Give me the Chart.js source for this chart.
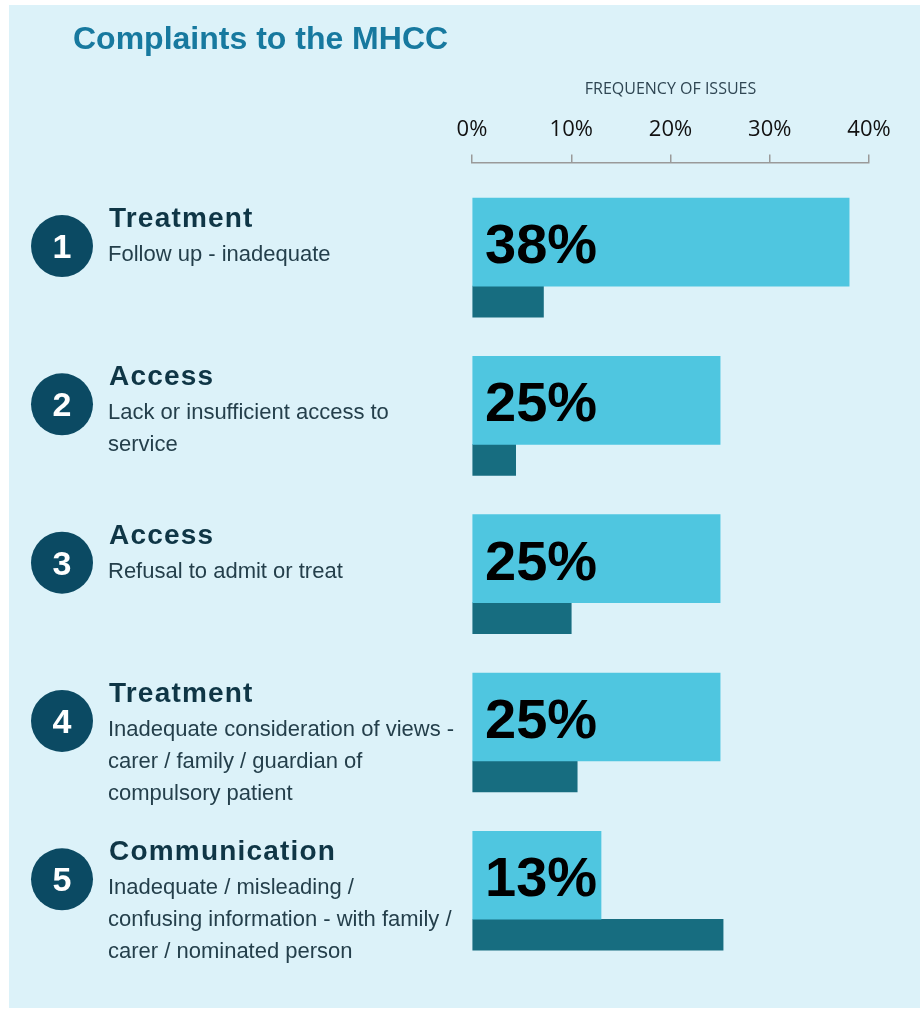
<!DOCTYPE html>
<html>
<head>
<meta charset="utf-8">
<title>Complaints to the MHCC</title>
<script src="https://cdn.jsdelivr.net/npm/chart.js@4.4.1/dist/chart.umd.min.js"></script>
<style>
  html, body { margin: 0; padding: 0; background: #ffffff; }
  #wrap { width: 920px; height: 1010px; }
</style>
</head>
<body>
<div id="wrap"><canvas id="complaints" width="920" height="1010"></canvas></div>
<script>
/* Data */
const headings = ['Treatment', 'Access', 'Access', 'Treatment', 'Communication'];
const descriptions = [
  ['Follow up - inadequate'],
  ['Lack or insufficient access to', 'service'],
  ['Refusal to admit or treat'],
  ['Inadequate consideration of views -', 'carer / family / guardian of', 'compulsory patient'],
  ['Inadequate / misleading /', 'confusing information - with family /', 'carer / nominated person']
];
const frequency = [38, 25, 25, 25, 13];
const compare = [7.2, 4.4, 10.0, 10.6, 25.3];
const xTicks = [0, 10, 20, 30, 40];

const PANEL = '#dcf2f9';
const LIGHT = '#4fc6e0';
const DARK = '#176d80';
const NAVY = '#0b4a63';
const INK = '#0f3646';
const BODY = '#243f4b';

/* Panel background, title, row captions and the big value labels */
const decorations = {
  id: 'decorations',
  beforeDraw(chart) {
    const ctx = chart.ctx;
    ctx.save();
    ctx.fillStyle = PANEL;
    ctx.fillRect(9, 5, chart.width - 9, 1003);
    ctx.fillStyle = '#17799f';
    ctx.font = 'bold 32px "Liberation Sans"';
    ctx.textBaseline = 'alphabetic';
    ctx.fillText('Complaints to the MHCC', 73, 49);
    ctx.restore();
  },
  afterDatasetsDraw(chart) {
    const ctx = chart.ctx;
    const y = chart.scales.y;
    const left = chart.chartArea.left;
    ctx.save();
    headings.forEach(function (head, i) {
      const p = y.getPixelForValue(i);

      // numbered disc
      ctx.fillStyle = NAVY;
      ctx.beginPath();
      ctx.arc(62, p - 40, 31, 0, Math.PI * 2);
      ctx.fill();
      ctx.fillStyle = '#ffffff';
      ctx.font = 'bold 34px "Liberation Sans"';
      ctx.textAlign = 'center';
      ctx.textBaseline = 'alphabetic';
      ctx.fillText(String(i + 1), 62, p - 40 + 12);

      // heading + description lines
      ctx.textAlign = 'left';
      ctx.fillStyle = INK;
      ctx.font = 'bold 28px "Liberation Sans"';
      ctx.letterSpacing = '1.2px';
      ctx.fillText(head, 109, p - 59);
      ctx.letterSpacing = '0px';
      ctx.fillStyle = BODY;
      ctx.font = '22px "Liberation Sans"';
      descriptions[i].forEach(function (line, k) {
        ctx.fillText(line, 108, p - 25 + k * 32);
      });
    });

    // percentages written inside the light bars
    ctx.fillStyle = '#000000';
    ctx.font = 'bold 56px "Liberation Sans"';
    ctx.textAlign = 'left';
    ctx.textBaseline = 'alphabetic';
    chart.getDatasetMeta(0).data.forEach(function (bar, i) {
      ctx.fillText(frequency[i] + '%', left + 13, bar.y + 21);
    });
    ctx.restore();
  }
};

const ctx = document.getElementById('complaints').getContext('2d');

const chart = new Chart(ctx, {
  type: 'bar',
  data: {
    datasets: [{
      label: 'Frequency of issues',
      data: frequency.map(function (v, i) { return { x: v, y: i }; }),
      backgroundColor: LIGHT,
      borderWidth: 0,
      barThickness: 88
    },
    {
      label: 'Comparison',
      data: compare.map(function (v, i) { return { x: v, y: i }; }),
      backgroundColor: DARK,
      borderWidth: 0,
      barThickness: 31
    }]
  },
  options: {
    indexAxis: 'y',
    responsive: false,
    animation: false,
    layout: { padding: { top: 80, left: 472, right: 51, bottom: 10 } },
    plugins: {
      legend: { display: false },
      tooltip: { enabled: false }
    },
    scales: {
      x: {
        type: 'linear',
        position: 'top',
        min: 0,
        max: 40,
        afterBuildTicks: function (scale) {
          scale.ticks = xTicks.map(function (v) { return { value: v }; });
        },
        ticks: {
          callback: function (v) { return v + '%'; },
          color: '#111111',
          font: { family: 'Open Sans', size: 22 },
          padding: 12,
          maxRotation: 0
        },
        grid: {
          drawOnChartArea: false,
          drawTicks: true,
          tickLength: 8,
          color: '#9a9a9a',
          lineWidth: 1.5
        },
        border: { display: true, color: '#9a9a9a', width: 1.5 },
        title: {
          display: true,
          text: 'FREQUENCY OF ISSUES',
          color: '#2f4653',
          font: { family: 'Open Sans', size: 16 },
          padding: { top: 0, bottom: 5 }
        }
      },
      y: {
        type: 'linear',
        reverse: true,
        min: -0.78,
        max: 4.51,
        offset: false,
        display: false
      }
    }
  },
  plugins: [decorations]
});
</script>
</body>
</html>
